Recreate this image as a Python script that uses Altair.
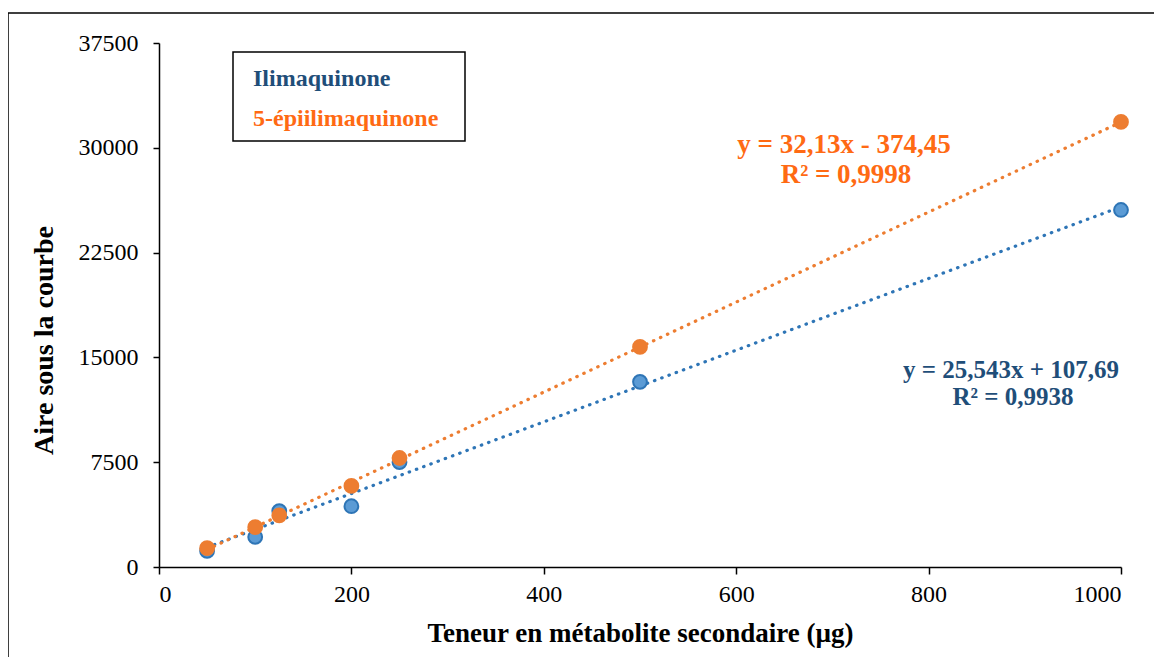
import altair as alt
import pandas as pd

# ---- data ----
amounts = [50, 100, 125, 200, 250, 500, 1000]
ilimaquinone = [1150, 2150, 4000, 4350, 7500, 13250, 25550]
epi_ilimaquinone = [1350, 2850, 3700, 5800, 7800, 15750, 31850]
series_names = ["Ilimaquinone", "5-épiilimaquinone"]
x_ticks = [0, 200, 400, 600, 800, 1000]
y_ticks = [0, 7500, 15000, 22500, 30000, 37500]
eq_ilima = ["y = 25,543x + 107,69", "R² = 0,9938"]
eq_epi = ["y = 32,13x - 374,45", "R² = 0,9998"]

line_colors = ["#2E75B6", "#ED7D31"]
fill_colors = ["#5B9BD5", "#ED7D31"]
text_colors = ["#1F4E79", "#FF6A13"]

rows = []
for name, vals in zip(series_names, [ilimaquinone, epi_ilimaquinone]):
    for a, v in zip(amounts, vals):
        rows.append({"series": name, "x": a, "y": v})
df = pd.DataFrame(rows)

FONT = "Liberation Serif"

xscale = alt.Scale(domain=[0, 1000], nice=False, zero=False)
yscale = alt.Scale(domain=[0, 37500], nice=False)

base = alt.Chart(df)

trend = base.transform_regression(
    "x", "y", groupby=["series"], extent=[50, 1000]
).mark_line(strokeDash=[0.5, 7.2], strokeCap="round", strokeWidth=3.2).encode(
    x=alt.X("x:Q", scale=xscale,
            axis=alt.Axis(values=x_ticks, format="d",
                          title="Teneur en métabolite secondaire (µg)",
                          tickSize=7, labelPadding=8, titlePadding=14)),
    y=alt.Y("y:Q", scale=yscale,
            axis=alt.Axis(values=y_ticks, format="d", title="Aire sous la courbe",
                          tickSize=6, labelPadding=15, titlePadding=20,
                          titleFontSize=28, titleY=297)),
    color=alt.Color("series:N", scale=alt.Scale(domain=series_names, range=line_colors),
                    legend=None),
)

points = base.mark_point(filled=True, size=190, strokeWidth=2, opacity=1).encode(
    x=alt.X("x:Q", scale=xscale),
    y=alt.Y("y:Q", scale=yscale),
    fill=alt.Fill("series:N", scale=alt.Scale(domain=series_names, range=fill_colors),
                  legend=None),
    stroke=alt.Stroke("series:N", scale=alt.Scale(domain=series_names, range=line_colors),
                      legend=None),
)

one = pd.DataFrame({"k": [0]})
frame = alt.Chart(one).mark_rect(fill=None, stroke="black", strokeWidth=1.5).encode(
    x=alt.value(-151), x2=alt.value(1010), y=alt.value(-30), y2=alt.value(700)
)
legend_box = alt.Chart(one).mark_rect(fill="white", stroke="black", strokeWidth=1.5).encode(
    x=alt.value(74), x2=alt.value(306), y=alt.value(9), y2=alt.value(98)
)
leg1 = alt.Chart(one).mark_text(align="left", baseline="middle", font=FONT, fontSize=24,
                                fontWeight="bold", color=text_colors[0]).encode(
    x=alt.value(94), y=alt.value(36), text=alt.value(series_names[0]))
leg2 = alt.Chart(one).mark_text(align="left", baseline="middle", font=FONT, fontSize=24,
                                fontWeight="bold", color=text_colors[1]).encode(
    x=alt.value(94), y=alt.value(76), text=alt.value(series_names[1]))

def ann(txt, color, x, y, size):
    return alt.Chart(one).mark_text(align="center", baseline="middle", font=FONT,
                                    fontSize=size, fontWeight="bold", color=color).encode(
        x=alt.value(x), y=alt.value(y), text=alt.value(txt))

anns = [
    ann(eq_epi[0], text_colors[1], 685, 102, 27),
    ann(eq_epi[1], text_colors[1], 687, 132, 27),
    ann(eq_ilima[0], text_colors[0], 852, 327, 25),
    ann(eq_ilima[1], text_colors[0], 854, 354, 25),
]

chart = alt.layer(frame, trend, points, legend_box, leg1, leg2, *anns).properties(
    width=962, height=524,
    autosize=alt.AutoSizeParams(type="none"),
    padding={"left": 151, "top": 35, "right": 33, "bottom": 90},
).configure_view(stroke=None).configure_axis(
    grid=False, domainColor="black", domainWidth=1.5, tickColor="black", tickWidth=1.5,
    labelFont=FONT, labelFontSize=24, labelColor="black",
    titleFont=FONT, titleFontSize=27, titleFontWeight="bold", titleColor="black",
)

chart.save("out.html", embed_options={"renderer": "svg", "actions": False})
